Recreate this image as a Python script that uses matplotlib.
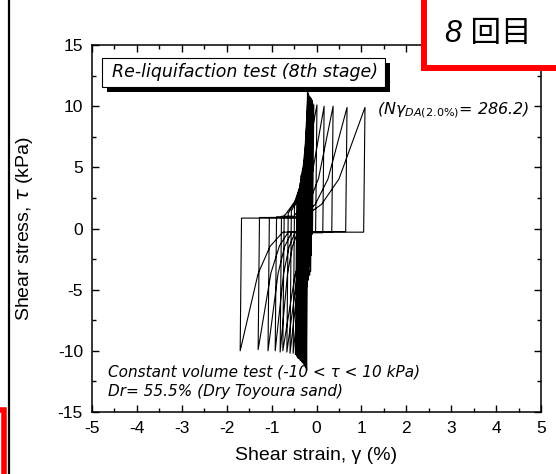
import matplotlib
matplotlib.use("Agg")
import matplotlib.pyplot as plt
from matplotlib.patches import Rectangle
from matplotlib.lines import Line2D
from matplotlib.ticker import MultipleLocator

plt.rcParams['font.family'] = ['Liberation Sans', 'DejaVu Sans', 'Noto Sans CJK JP']
plt.rcParams['axes.unicode_minus'] = False

# loop key points, one entry per cycle (oldest first)
# strain at the +peak and the stress reached there
gam_right = [-0.20, -0.18, -0.15, -0.12, -0.10, -0.19, -0.14, -0.11, -0.17, -0.13, -0.09, -0.16,
             -0.12, -0.10, -0.18, -0.14, -0.11, -0.15, -0.12, -0.10, -0.13, -0.11, -0.09, -0.12,
             -0.12, -0.11, -0.10, -0.08, -0.06,
             0.01, 0.17, 0.37, 0.68, 1.08]
tau_top = [11.3, 11.0, 10.8, 10.6, 10.5, 11.1, 10.7, 10.5, 10.9, 10.6, 10.4, 10.8,
           10.6, 10.4, 10.9, 10.6, 10.4, 10.7, 10.5, 10.4, 10.6, 10.4, 10.3, 10.5,
           10.4, 10.3, 10.3, 10.2, 10.1,
           10.1, 10.0, 10.0, 9.9, 9.9]
# strain at the -peak and the stress reached there
gam_left = [-0.22, -0.26, -0.30, -0.34, -0.38, -0.24, -0.32, -0.40, -0.28, -0.36, -0.42, -0.25,
            -0.33, -0.41, -0.29, -0.37, -0.43, -0.31, -0.39, -0.44, -0.35, -0.42, -0.45, -0.40,
            -0.47, -0.52, -0.59, -0.66, -0.75,
            -0.81, -0.92, -1.08, -1.30, -1.70]
tau_bot = [-11.6, -11.2, -11.0, -10.8, -10.6, -11.4, -10.9, -10.6, -11.1, -10.8, -10.5, -11.3,
           -10.9, -10.6, -11.0, -10.7, -10.5, -10.9, -10.6, -10.4, -10.7, -10.5, -10.3, -10.5,
           -10.3, -10.2, -10.2, -10.1, -10.0,
           -10.1, -10.0, -10.0, -9.9, -10.0]
# end of the flow at small negative stress (start of the path down to the -peak)
gam_b = [-0.24, -0.22, -0.20, -0.17, -0.15, -0.22, -0.18, -0.15, -0.21, -0.17, -0.13, -0.20,
         -0.16, -0.14, -0.21, -0.17, -0.14, -0.19, -0.15, -0.13, -0.16, -0.14, -0.12, -0.15,
         -0.13, -0.12, -0.12, -0.11, -0.10,
         -0.42, -0.48, -0.55, -0.62, -0.75]
tau_rp = [-5.0, -4.6, -4.2, -3.8, -3.5, -3.2, -3.0, -2.8, -2.6, -2.4, -2.2, -2.0,
          -1.9, -1.8, -1.7, -1.6, -1.5, -1.4, -1.3, -1.2, -1.1, -1.0, -0.9, -0.85,
          -0.8, -0.7, -0.6, -0.5, -0.45,
          -0.3, -0.35, -0.3, -0.25, -0.3]
# end of the flow at small positive stress (start of the path up to the +peak), one extra for the end
gam_a = [-0.21, -0.20, -0.23, -0.27, -0.30, -0.34, -0.21, -0.28, -0.36, -0.25, -0.32, -0.38,
         -0.22, -0.30, -0.38, -0.26, -0.34, -0.40, -0.28, -0.36, -0.41, -0.32, -0.39, -0.42,
         -0.37, -0.44, -0.49, -0.55, -0.62,
         -0.70, -0.50, -0.40, -0.33, -0.30,
         -0.30]
tau_lp = [6.0, 5.6, 5.2, 4.9, 4.6, 4.3, 4.1, 3.9, 3.7, 3.5, 3.3, 3.2,
          3.1, 3.0, 2.9, 2.8, 2.7, 2.6, 2.5, 2.45, 2.4, 2.35, 2.3, 2.25,
          2.2, 2.0, 1.8, 1.5, 1.3,
          1.1, 1.0, 0.95, 0.9, 0.9,
          0.85]

# shape of the hardening branch (share of strain, share of stress)
bend_gam = [0.30, 0.58]
bend_tau = [0.12, 0.35]

gx, gy = [], []
for i in range(len(gam_right)):
    a, r, b, l = gam_a[i], gam_right[i], gam_b[i], gam_left[i]
    gx.append(a)
    gy.append(tau_lp[i])
    for fg, ft in zip(bend_gam, bend_tau):
        gx.append(a + fg * (r - a))
        gy.append(tau_lp[i] + ft * (tau_top[i] - tau_lp[i]))
    gx += [r, r - 0.03, b]
    gy += [tau_top[i], tau_rp[i], tau_rp[i]]
    for fg, ft in zip(bend_gam, bend_tau):
        gx.append(b + fg * (l - b))
        gy.append(tau_rp[i] + ft * (tau_bot[i] - tau_rp[i]))
    gx += [l, l + 0.03]
    gy += [tau_bot[i], tau_lp[i + 1]]
gx.append(gam_a[-1])
gy.append(tau_lp[-1])

fig = plt.figure(figsize=(5.56, 4.74), dpi=100)
ax = fig.add_axes([92/556, 1-412/474, 449/556, 367/474])
ax.plot(gx, gy, color='black', lw=0.8)

ax.set_xlim(-5, 5)
ax.set_ylim(-15, 15)
ax.xaxis.set_major_locator(MultipleLocator(1))
ax.xaxis.set_minor_locator(MultipleLocator(0.5))
ax.yaxis.set_major_locator(MultipleLocator(5))
ax.yaxis.set_minor_locator(MultipleLocator(2.5))
ax.tick_params(which='both', direction='in', top=True, right=True, width=1, labelsize=12.5, pad=6.5)
ax.tick_params(which='major', length=5)
ax.tick_params(which='minor', length=3)
for s in ax.spines.values():
    s.set_linewidth(1.1)

ax.set_xlabel('Shear strain, γ (%)', fontsize=14)
ax.set_ylabel(r'Shear stress, $\tau$ (kPa)', fontsize=14)
ax.xaxis.set_label_coords(0.5, -0.095)
ax.yaxis.set_label_coords(-0.127, 0.5)

# title box with shadow
ax.add_patch(Rectangle((0.0223 + 5/449, 0.8856 - 5/367), 0.6303, 0.079, transform=ax.transAxes,
                       fc='black', ec='black', lw=0, clip_on=False, zorder=5))
ax.add_patch(Rectangle((0.0223, 0.8856), 0.6303, 0.079, transform=ax.transAxes,
                       fc='white', ec='black', lw=0.8, clip_on=False, zorder=6))
ax.text(0.0445, 0.926, 'Re-liquifaction test (8th stage)', transform=ax.transAxes,
        fontsize=12.5, style='italic', va='center', ha='left', zorder=7, family='DejaVu Sans')

ax.text(0.635, 0.823, r'(N$\gamma_{\mathit{DA(2.0\%)}}$= 286.2)', transform=ax.transAxes,
        fontsize=11.5, style='italic', va='center', ha='left', family='DejaVu Sans')
ax.text(0.0356, 0.109, 'Constant volume test (-10 < τ < 10 kPa)', transform=ax.transAxes,
        fontsize=11, style='italic', va='center', ha='left', family='DejaVu Sans')
ax.text(0.0356, 0.0545, 'Dr= 55.5% (Dry Toyoura sand)', transform=ax.transAxes,
        fontsize=11, style='italic', va='center', ha='left', family='DejaVu Sans')

# page decorations around the chart
fig.add_artist(Line2D([8.5/556, 8.5/556], [0, 1], color='black', lw=1.6))
fig.add_artist(Rectangle((-0.05, -0.05), 0.05 + 3.5/556, 0.05 + 64/474, fc='none', ec='red', lw=4,
                         transform=fig.transFigure, zorder=10))
fig.add_artist(Rectangle((424/556, 1 - 68/474), 0.3, 0.3, fc='white', ec='red', lw=4.3,
                         transform=fig.transFigure, zorder=10))
fig.text(488/556, 1 - 34/474, '8 回目', fontsize=22, style='italic', ha='center', va='center',
         family=['Liberation Sans', 'Noto Sans CJK JP'], zorder=11)

fig.savefig('out.png', dpi=100)
